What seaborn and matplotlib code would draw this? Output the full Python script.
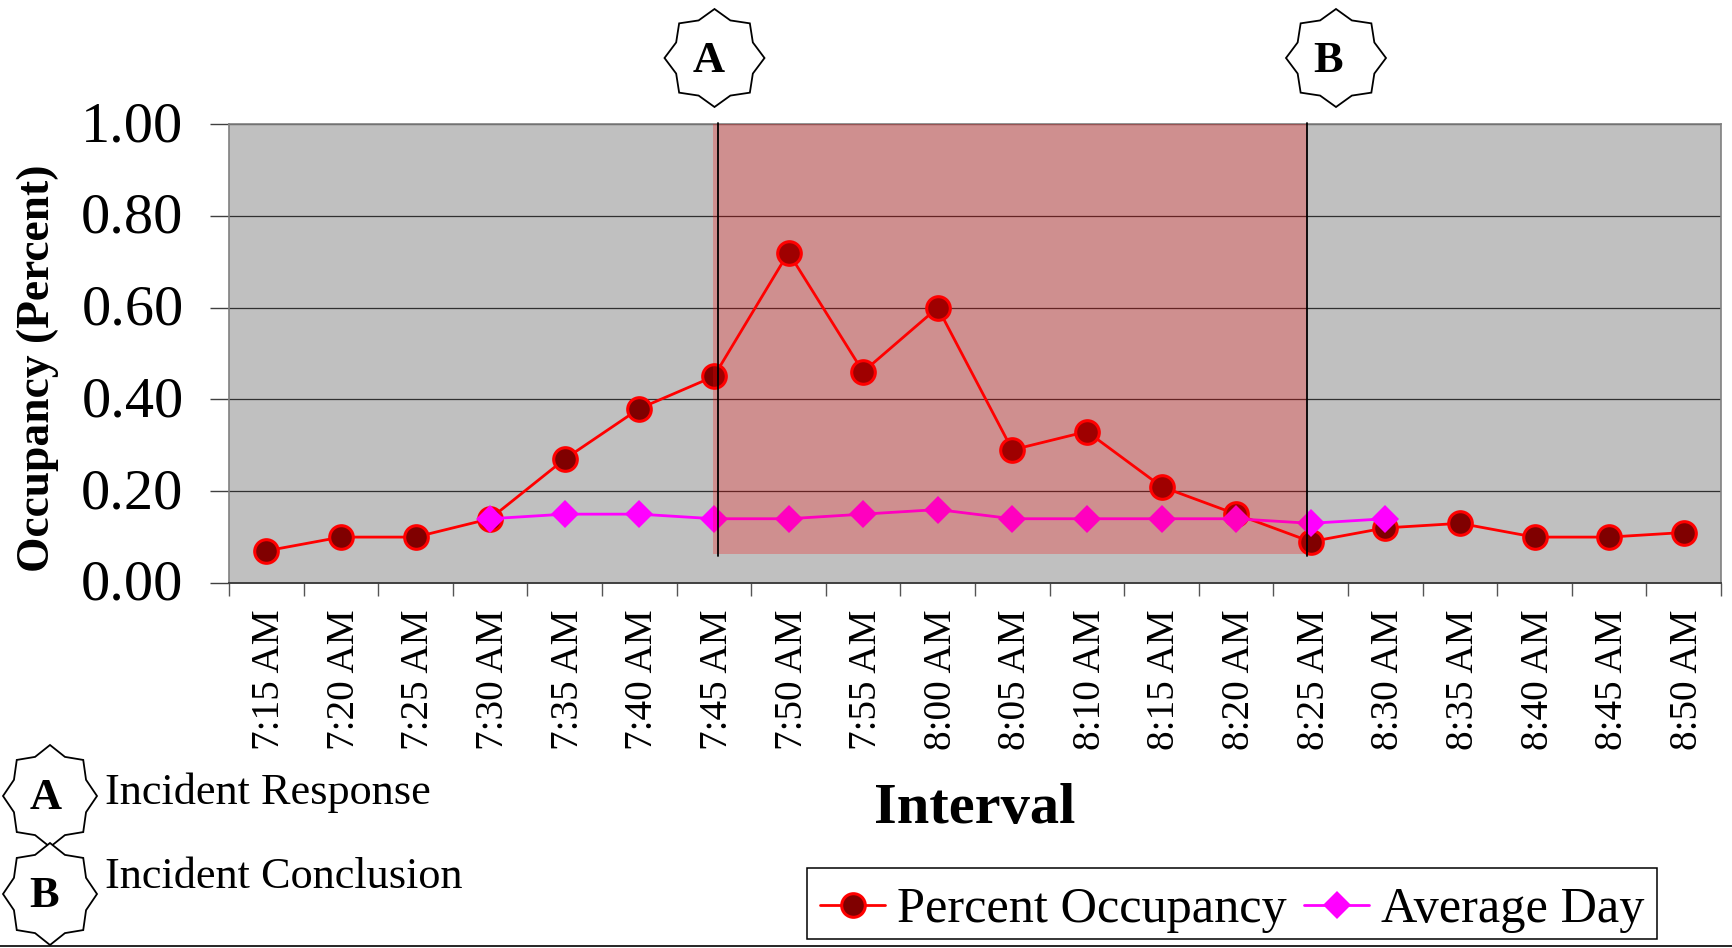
import numpy as np
import pandas as pd
import matplotlib
matplotlib.use("Agg")
import matplotlib.pyplot as plt
from matplotlib.patches import Polygon, Rectangle
from matplotlib.lines import Line2D
from matplotlib.ticker import FixedLocator
from matplotlib.transforms import ScaledTranslation
import seaborn as sns

intervals = ["7:15 AM", "7:20 AM", "7:25 AM", "7:30 AM", "7:35 AM", "7:40 AM", "7:45 AM",
             "7:50 AM", "7:55 AM", "8:00 AM", "8:05 AM", "8:10 AM", "8:15 AM", "8:20 AM",
             "8:25 AM", "8:30 AM", "8:35 AM", "8:40 AM", "8:45 AM", "8:50 AM"]
percent_occupancy = [0.07, 0.10, 0.10, 0.14, 0.27, 0.38, 0.45, 0.72, 0.46, 0.60,
                     0.29, 0.33, 0.21, 0.15, 0.09, 0.12, 0.13, 0.10, 0.10, 0.11]
average_intervals = intervals[3:16]
average_day = [0.14, 0.15, 0.15, 0.14, 0.14, 0.15, 0.16, 0.14, 0.14, 0.14, 0.14, 0.13, 0.14]
y_ticks = [0.0, 0.2, 0.4, 0.6, 0.8, 1.0]

W, H = 1732, 948
sns.set_theme(style="white")
plt.rcParams["font.family"] = ["Liberation Serif", "DejaVu Serif"]

fig = plt.figure(figsize=(W / 100, H / 100), dpi=100, facecolor="white")
L, R, T, B = 229, 1721, 124, 583
ax = fig.add_axes([L / W, 1 - B / H, (R - L) / W, (B - T) / H])
ax.set_facecolor("#C0C0C0")

occ = pd.DataFrame({"Interval": intervals, "Occupancy": percent_occupancy})
avg = pd.DataFrame({"Interval": average_intervals, "Occupancy": average_day})
sns.lineplot(data=occ, x="Interval", y="Occupancy", ax=ax, sort=False, errorbar=None,
             color="#FF0000", linewidth=2, marker="o", markersize=17,
             markerfacecolor="#800000", markeredgecolor="#FF0000", markeredgewidth=2.2,
             label="Percent Occupancy", zorder=3)
sns.lineplot(data=avg, x="Interval", y="Occupancy", ax=ax, sort=False, errorbar=None,
             color="#FF00FF", linewidth=2, marker="D", markersize=14.5,
             markerfacecolor="#FF00FF", markeredgecolor="#FF00FF", markeredgewidth=0,
             label="Average Day", zorder=4)

ax.set_xlim(-0.5, len(intervals) - 0.5)
ax.set_ylim(0, 1)
ax.set_yticks(y_ticks)
ax.set_yticklabels([f"{v:.2f}" for v in y_ticks], fontsize=42)
ax.set_xticks(range(len(intervals)))
ax.set_xticklabels(intervals, rotation=90, fontsize=28.3, color="black")
ax.xaxis.set_minor_locator(FixedLocator(np.arange(-0.5, len(intervals), 1)))
ax.tick_params(axis="x", which="major", length=0, pad=19)
ax.tick_params(axis="x", which="minor", length=9, width=1, color="#555555", bottom=True)
ax.tick_params(axis="y", which="major", length=13.7, width=1, color="#404040", left=True, pad=19, labelcolor="black")
x_shift = ScaledTranslation(3.5 / 100, 0, fig.dpi_scale_trans)
y_shift = ScaledTranslation(0, 3 / 100, fig.dpi_scale_trans)
for lab in ax.get_xticklabels():
    lab.set_transform(lab.get_transform() + x_shift)
for lab in ax.get_yticklabels():
    lab.set_transform(lab.get_transform() + y_shift)
ax.grid(True, axis="y", color="#303030", linewidth=0.9)
ax.set_axisbelow(True)
for name in ["top", "right", "left"]:
    ax.spines[name].set_color("#808080")
    ax.spines[name].set_linewidth(1.2)
ax.spines["bottom"].set_color("#404040")
ax.spines["bottom"].set_linewidth(1.4)
ax.set_xlabel("")
ax.set_ylabel("")

# Incident window overlay
ax.add_patch(Rectangle((5.99, 0.063), 13.95 - 5.99, 1 - 0.063, facecolor="#FF0000",
                       alpha=0.25, edgecolor="none", zorder=5))
for xv in (6.06, 13.95):
    ax.add_line(Line2D([xv, xv], [0.059, 1.002], color="black", linewidth=1.3, zorder=6, clip_on=False))

fig.text(38 / W, 1 - 368 / H, "Occupancy (Percent)", rotation=90, ha="center", va="center",
         fontsize=32.8, fontweight="bold", color="black")
fig.text(975 / W, 1 - 809.5 / H, "Interval", ha="center", va="center",
         fontsize=42, fontweight="bold", color="black")

# Eight-pointed badges
def badge(cx, cy, rx, ry, letter, lx, ly):
    ang = np.arange(16) * np.pi / 8
    rad = np.where(np.arange(16) % 2 == 0, 1.0, 0.83)
    xs = (cx + rx * rad * np.sin(ang)) / W
    ys = 1 - (cy - ry * rad * np.cos(ang)) / H
    fig.add_artist(Polygon(np.column_stack([xs, ys]), closed=True, transform=fig.transFigure,
                           facecolor="white", edgecolor="black", linewidth=1.3, clip_on=False))
    fig.text(lx / W, 1 - ly / H, letter, ha="center", va="center",
             fontsize=32, fontweight="bold", color="black")

badge(714.5, 58, 50, 49, "A", 708.5, 61)
badge(1336, 58, 50, 49, "B", 1328, 61)
badge(50, 796, 47, 51, "A", 45.5, 798)
badge(50, 894, 47, 51, "B", 44.5, 896)

fig.text(105 / W, 1 - 792.5 / H, "Incident Response", ha="left", va="center", fontsize=31.9, color="black")
fig.text(105 / W, 1 - 877.5 / H, "Incident Conclusion", ha="left", va="center", fontsize=31.9, color="black")

fig.add_artist(Line2D([0, 1], [1 - 945.5 / H, 1 - 945.5 / H], transform=fig.transFigure,
                      color="black", linewidth=1.2))

# Legend frame is drawn separately because its entries sit low inside the box
fig.add_artist(Rectangle((807 / W, 1 - 939 / H), (1657 - 807) / W, (939 - 868) / H,
                         transform=fig.transFigure, facecolor="white", edgecolor="black",
                         linewidth=1.1, zorder=1))
handles, labels = ax.get_legend_handles_labels()
if ax.get_legend():
    ax.get_legend().remove()
leg = fig.legend(handles, labels, ncols=2, loc="center", bbox_to_anchor=(1232 / W, 1 - 910 / H),
                 fontsize=36.3, frameon=False,
                 handlelength=1.3, handletextpad=0.22, columnspacing=0.35, borderpad=0.22,
                 borderaxespad=0, labelcolor="black")
leg.set_zorder(2)

fig.savefig("out.png", dpi=100, facecolor="white")
